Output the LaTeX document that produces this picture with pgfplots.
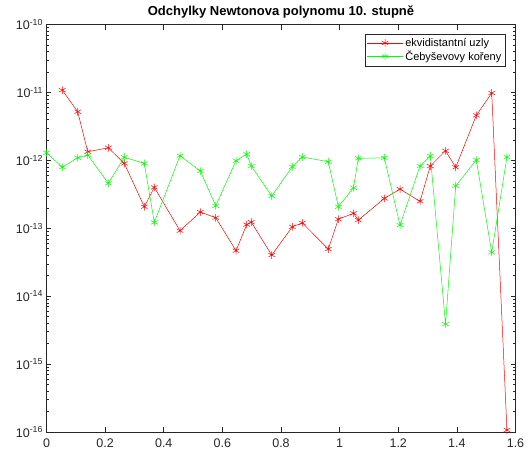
\documentclass[border=0pt]{standalone}
\usepackage{fontspec}
\setmainfont{Liberation Sans}
\usepackage{pgfplots}
\pgfplotsset{compat=1.18}
\begin{document}
\begin{tikzpicture}
\definecolor{axgray}{rgb}{0.15,0.15,0.15}
\begin{axis}[
  scale only axis,
  width=469pt, height=407.5pt,
  xmin=0, xmax=1.6,
  ymode=log, ymin=1e-16, ymax=1e-10,
  xtick={0,0.2,...,1.6},
  ytick={1e-16,1e-15,1e-14,1e-13,1e-12,1e-11,1e-10},
  yticklabels={10\textsuperscript{-16},10\textsuperscript{-15},10\textsuperscript{-14},10\textsuperscript{-13},10\textsuperscript{-12},10\textsuperscript{-11},10\textsuperscript{-10}},
  /pgf/number format/assume math mode=true,
  xticklabel style={font=\fontsize{12.5}{14}\selectfont, text=axgray, yshift=-3pt},
  yticklabel style={font=\fontsize{12.5}{14}\selectfont, text=axgray},
  tick align=inside,
  major tick length=5pt,
  minor tick length=3pt,
  axis line style={axgray},
  every tick/.style={axgray, line width=0.5pt},
  title={\bfseries Odchylky Newtonova polynomu 10. stupně},
  title style={font=\fontsize{13}{15}\selectfont, yshift=-3pt},
  legend style={at={(rel axis cs:1,1)}, anchor=north east, xshift=-10pt, yshift=-9.5pt,
    font=\fontsize{11}{13}\selectfont, draw=axgray, row sep=-1pt, inner sep=2pt},
  legend cell align=left,
  legend image code/.code={\draw[mark repeat=2,mark phase=2] plot coordinates {(0pt,0pt) (18pt,0pt) (36pt,0pt)};},
]
\addplot[red, mark=asterisk, mark size=3.8pt, line width=0.5pt] coordinates {
(0.0539,1.08e-11) (0.1064,5.2e-12) (0.1406,1.34e-12) (0.2109,1.53e-12) (0.2654,9.0e-13)
(0.3337,2.07e-13) (0.3678,4.0e-13) (0.4555,9.2e-14) (0.5247,1.73e-13) (0.5773,1.43e-13)
(0.6465,4.67e-14) (0.6830,1.13e-13) (0.6987,1.23e-13) (0.7683,4.03e-14) (0.8386,1.05e-13)
(0.8727,1.2e-13) (0.9614,4.94e-14) (0.9956,1.36e-13) (1.0474,1.66e-13) (1.0638,1.32e-13)
(1.1525,2.75e-13) (1.2060,3.77e-13) (1.2743,2.49e-13) (1.3094,8.24e-13) (1.3613,1.38e-12)
(1.3961,7.89e-13) (1.4664,4.6e-12) (1.5189,9.8e-12) (1.5708,1.07e-16)
};
\addlegendentry{ekvidistantní uzly\hspace{10pt}}
\addplot[green, mark=asterisk, mark size=3.8pt, line width=0.5pt] coordinates {
(0,1.29e-12) (0.0539,7.9e-13) (0.1064,1.09e-12) (0.1406,1.2e-12) (0.2109,4.58e-13)
(0.2654,1.11e-12) (0.3337,9.0e-13) (0.3678,1.22e-13) (0.4555,1.17e-12) (0.5247,6.95e-13)
(0.5773,2.14e-13) (0.6465,9.86e-13) (0.6830,1.23e-12) (0.6987,8.24e-13) (0.7683,2.98e-13)
(0.8386,8.05e-13) (0.8727,1.12e-12) (0.9614,9.53e-13) (0.9956,2.07e-13) (1.0474,3.95e-13)
(1.0638,1.07e-12) (1.1525,1.09e-12) (1.2060,1.11e-13) (1.2743,8.24e-13) (1.3094,1.16e-12)
(1.3613,3.88e-15) (1.3961,4.22e-13) (1.4664,1.01e-12) (1.5189,4.41e-14) (1.5708,1.12e-12)
};
\addlegendentry{Čebyševovy kořeny}
\end{axis}
\path (current axis.south west) ++(-46.5pt,-24pt) coordinate (bbA);
\path (current axis.north east) ++(15.5pt,24.5pt) coordinate (bbB);
\path (bbA) rectangle (bbB);
\end{tikzpicture}
\end{document}
